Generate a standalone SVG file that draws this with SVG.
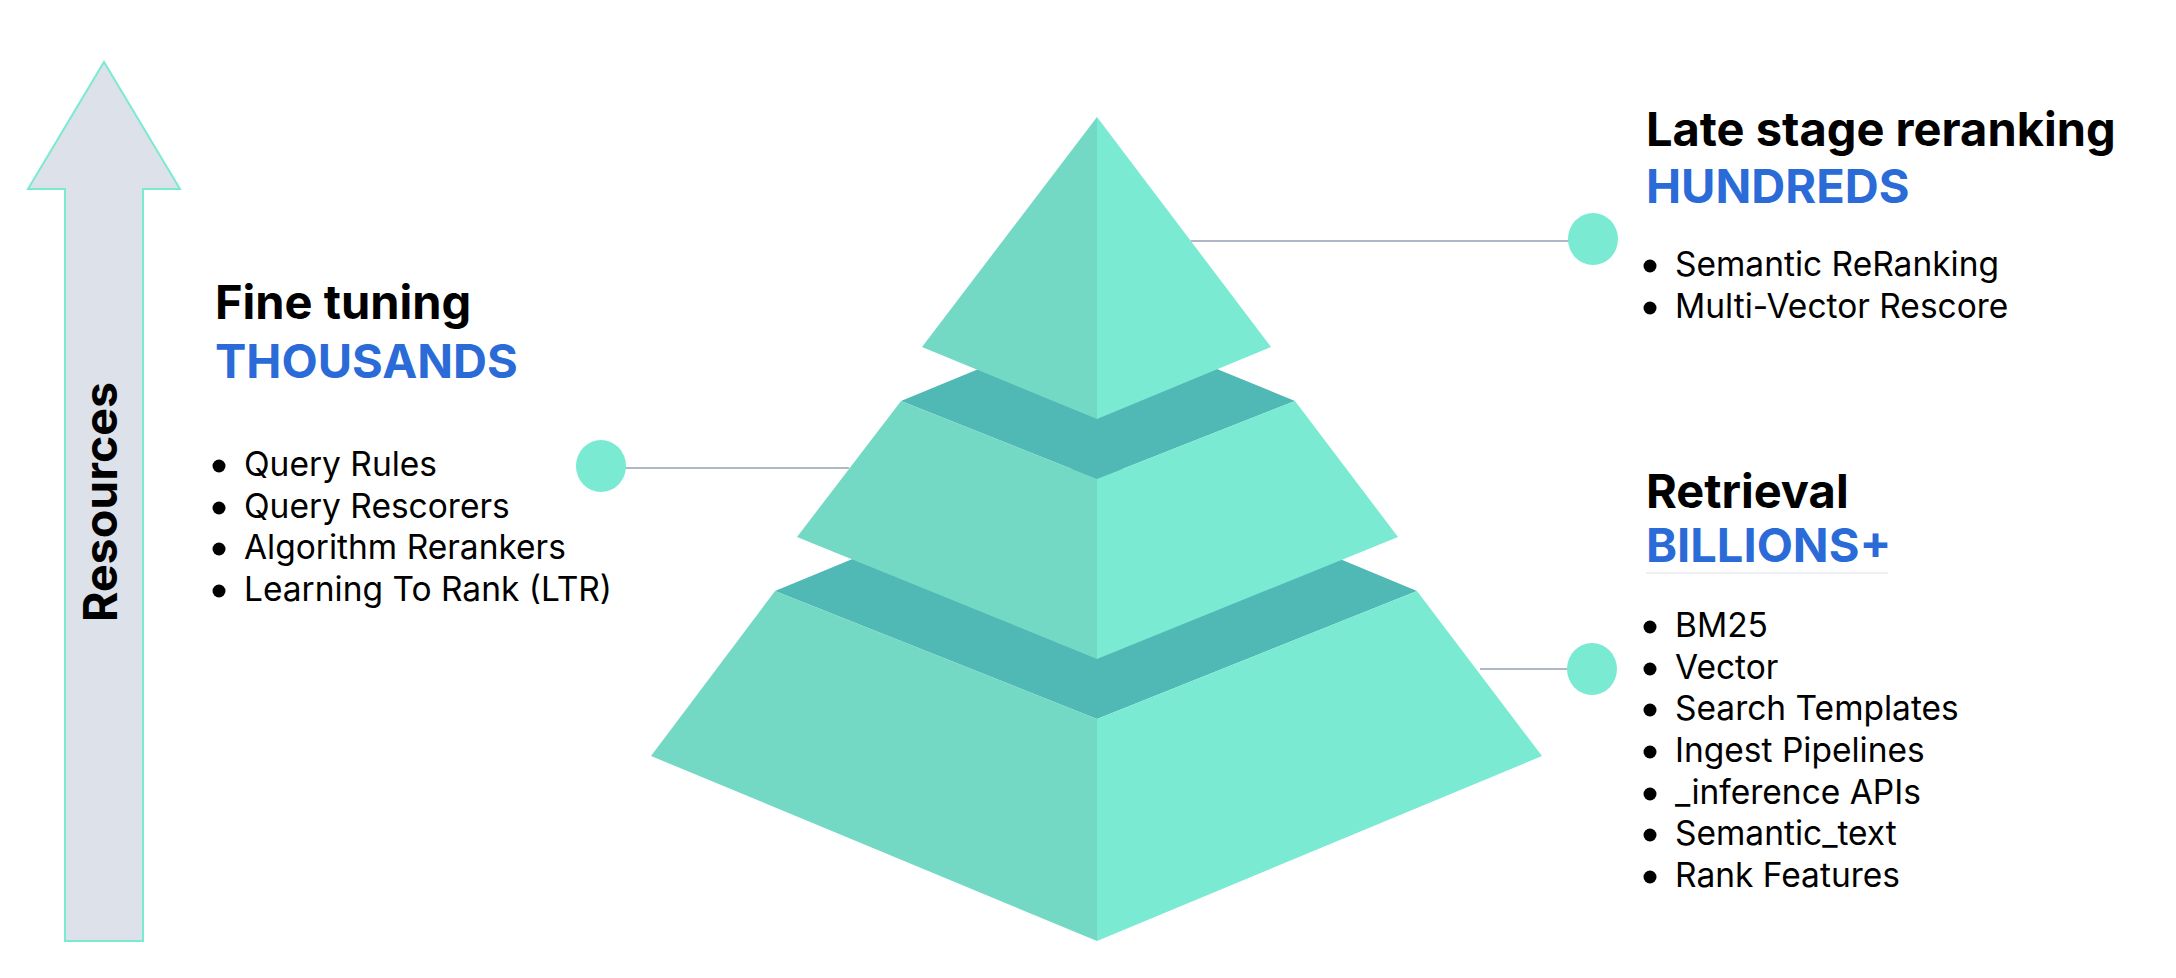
<svg xmlns="http://www.w3.org/2000/svg" width="2176" height="978" viewBox="0 0 2176 978">
<style>
.l{fill:#74d9c4}.r{fill:#7aead2}.d{fill:#50b8b5}
.h{font-family:Inter,"Liberation Sans",sans-serif;font-weight:700;font-size:47px;fill:#000}
.b{font-family:Inter,"Liberation Sans",sans-serif;font-weight:700;font-size:47px;fill:#2a6bd8}
.t{font-family:Inter,"Liberation Sans",sans-serif;font-size:33.5px;fill:#000}
.c{stroke:#b0b8c8;stroke-width:2;fill:none}
.dot{fill:#7aead2}
</style>
<rect width="2176" height="978" fill="#fff"/>
<g id="arrow">
<polygon points="104,62 180,189 143,189 143,941 65,941 65,189 28,189" fill="#dde2ea" stroke="#7aead2" stroke-width="2"/>
<text transform="translate(117,502) rotate(-90)" text-anchor="middle" style="font-family:Inter,'Liberation Sans',sans-serif;font-weight:700;font-size:46.5px;fill:#000">Resources</text>
</g>
<g id="pyramid">
<polygon class="d" points="775,591 1097,458 1417,591 1097,719"/>
<polygon class="l" points="775,591 651,756 1097,941 1097,719"/>
<polygon class="r" points="1097,719 1417,591 1542,756 1097,941"/>
<polygon class="d" points="901,401 1097,320 1295,401 1097,479"/>
<polygon class="l" points="901,401 797,537 1097,659 1097,479"/>
<polygon class="r" points="1097,479 1295,401 1398,537 1097,659"/>
<polygon class="l" points="1097,117 922,347 1097,419"/>
<polygon class="r" points="1097,117 1271,347 1097,419"/>
</g>
<g id="connectors">
<line class="c" x1="1191" y1="241" x2="1570" y2="241"/>
<line class="c" x1="625" y1="468" x2="849" y2="468"/>
<line class="c" x1="1480" y1="669" x2="1570" y2="669"/>
<ellipse class="dot" cx="1593" cy="239" rx="25" ry="26"/>
<ellipse class="dot" cx="601" cy="466" rx="25" ry="26"/>
<ellipse class="dot" cx="1592" cy="669" rx="25" ry="26"/>
</g>
<g id="late">
<text class="h" x="1646" y="146">Late stage reranking</text>
<text class="b" x="1646" y="203">HUNDREDS</text>
<circle cx="1650" cy="266" r="6.5"/><text class="t" x="1675" y="276">Semantic ReRanking</text>
<circle cx="1650" cy="308" r="6.5"/><text class="t" x="1675" y="318">Multi-Vector Rescore</text>
</g>
<g id="fine">
<text class="h" x="215" y="319">Fine tuning</text>
<text class="b" x="215" y="378">THOUSANDS</text>
<circle cx="219" cy="466" r="6.5"/><text class="t" x="244" y="476">Query Rules</text>
<circle cx="219" cy="508" r="6.5"/><text class="t" x="244" y="518">Query Rescorers</text>
<circle cx="219" cy="549" r="6.5"/><text class="t" x="244" y="559">Algorithm Rerankers</text>
<circle cx="219" cy="591" r="6.5"/><text class="t" x="244" y="601">Learning To Rank (LTR)</text>
</g>
<g id="retrieval">
<text class="h" x="1646" y="508">Retrieval</text>
<text class="b" x="1646" y="562">BILLIONS+</text>
<line x1="1646" y1="573" x2="1888" y2="573" stroke="#eef0f4" stroke-width="2"/>
<circle cx="1650" cy="627" r="6.5"/><text class="t" x="1675" y="637">BM25</text>
<circle cx="1650" cy="669" r="6.5"/><text class="t" x="1675" y="679">Vector</text>
<circle cx="1650" cy="710" r="6.5"/><text class="t" x="1675" y="720">Search Templates</text>
<circle cx="1650" cy="752" r="6.5"/><text class="t" x="1675" y="762">Ingest Pipelines</text>
<circle cx="1650" cy="794" r="6.5"/><text class="t" x="1675" y="804">_inference APIs</text>
<circle cx="1650" cy="835" r="6.5"/><text class="t" x="1675" y="845">Semantic_text</text>
<circle cx="1650" cy="877" r="6.5"/><text class="t" x="1675" y="887">Rank Features</text>
</g>
</svg>
